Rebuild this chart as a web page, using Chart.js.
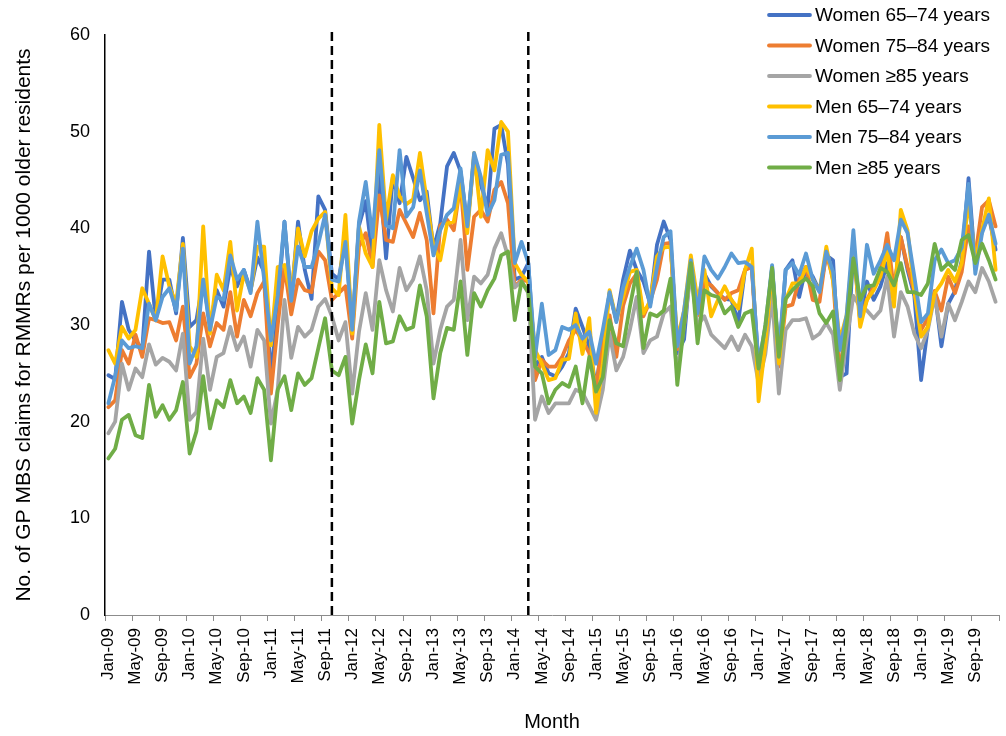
<!DOCTYPE html>
<html>
<head>
<meta charset="utf-8">
<script src="https://cdn.jsdelivr.net/npm/chart.js@4.4.1/dist/chart.umd.min.js"></script>
<style>
html,body{margin:0;padding:0;background:#fff;}
#wrap{width:1006px;height:736px;}
</style>
</head>
<body>
<div id="wrap"><canvas id="c" width="1006" height="736"></canvas></div>
<script>
const months = [
 'Jan-09','Feb-09','Mar-09','Apr-09','May-09','Jun-09','Jul-09','Aug-09','Sep-09','Oct-09','Nov-09','Dec-09',
 'Jan-10','Feb-10','Mar-10','Apr-10','May-10','Jun-10','Jul-10','Aug-10','Sep-10','Oct-10','Nov-10','Dec-10',
 'Jan-11','Feb-11','Mar-11','Apr-11','May-11','Jun-11','Jul-11','Aug-11','Sep-11','Oct-11','Nov-11','Dec-11',
 'Jan-12','Feb-12','Mar-12','Apr-12','May-12','Jun-12','Jul-12','Aug-12','Sep-12','Oct-12','Nov-12','Dec-12',
 'Jan-13','Feb-13','Mar-13','Apr-13','May-13','Jun-13','Jul-13','Aug-13','Sep-13','Oct-13','Nov-13','Dec-13',
 'Jan-14','Feb-14','Mar-14','Apr-14','May-14','Jun-14','Jul-14','Aug-14','Sep-14','Oct-14','Nov-14','Dec-14',
 'Jan-15','Feb-15','Mar-15','Apr-15','May-15','Jun-15','Jul-15','Aug-15','Sep-15','Oct-15','Nov-15','Dec-15',
 'Jan-16','Feb-16','Mar-16','Apr-16','May-16','Jun-16','Jul-16','Aug-16','Sep-16','Oct-16','Nov-16','Dec-16',
 'Jan-17','Feb-17','Mar-17','Apr-17','May-17','Jun-17','Jul-17','Aug-17','Sep-17','Oct-17','Nov-17','Dec-17',
 'Jan-18','Feb-18','Mar-18','Apr-18','May-18','Jun-18','Jul-18','Aug-18','Sep-18','Oct-18','Nov-18','Dec-18',
 'Jan-19','Feb-19','Mar-19','Apr-19','May-19','Jun-19','Jul-19','Aug-19','Sep-19','Oct-19','Nov-19','Dec-19'
];

const seriesLabels = ['Women 65–74 years','Women 75–84 years','Women ≥85 years','Men 65–74 years','Men 75–84 years','Men ≥85 years'];

const women65to74 = [
 24.8,24.4,32.4,29.5,28.4,27.5,37.6,30.5,34.7,34.7,31.2,39.0,
 29.8,30.5,34.7,30.0,33.6,31.9,36.0,34.0,35.7,33.6,37.0,35.5,
 24.6,32.0,40.7,32.6,40.7,35.7,32.7,43.3,41.9,35.3,34.7,39.0,
 29.5,40.3,42.8,36.9,46.0,36.9,45.3,42.6,47.4,45.2,42.9,43.8,
 37.9,40.5,46.4,47.8,45.9,40.3,47.4,44.5,42.2,50.3,50.7,46.6,
 34.7,35.0,36.4,25.7,26.7,25.0,24.7,25.7,27.1,31.7,29.8,27.8,
 23.6,28.5,33.3,30.5,34.7,37.7,35.7,34.5,32.2,38.3,40.7,38.8,
 27.1,28.5,36.7,32.0,35.3,34.0,33.3,32.7,32.6,30.3,35.7,36.2,
 25.7,29.0,36.0,26.5,35.7,36.7,32.9,36.0,35.0,33.5,37.2,36.7,
 24.6,25.0,38.0,30.5,34.5,32.6,34.0,36.4,33.5,39.1,35.7,33.0,
 24.3,29.8,33.5,27.8,32.2,33.5,36.7,45.2,36.0,39.8,41.2,37.8
];
const women75to84 = [
 21.5,22.2,27.4,26.0,29.0,26.7,30.7,30.5,30.2,30.3,28.4,31.9,
 24.6,26.0,31.2,27.8,30.2,29.5,33.4,28.8,32.6,30.9,33.3,34.5,
 22.9,30.0,36.0,31.1,34.7,33.6,33.4,37.6,36.7,32.6,33.3,34.0,
 28.6,38.1,39.5,36.0,43.4,38.8,38.6,41.9,40.5,39.1,41.6,38.8,
 31.2,40.3,40.9,39.8,44.7,35.7,41.2,41.9,40.7,44.0,44.8,42.6,
 33.9,34.7,34.5,24.3,26.4,25.7,25.7,26.7,28.4,29.5,28.4,27.1,
 23.5,28.5,31.0,26.7,32.0,34.3,35.3,30.9,32.5,34.7,38.4,38.5,
 27.5,30.0,36.0,31.0,34.5,34.1,33.3,32.6,33.3,33.6,35.7,36.0,
 24.6,28.4,35.3,25.7,31.9,32.1,34.7,36.0,32.6,32.4,37.5,34.7,
 25.0,30.0,38.5,30.5,32.6,34.0,35.3,39.5,33.5,39.1,36.0,33.5,
 29.5,30.7,33.5,31.5,35.0,33.3,35.5,40.2,37.1,42.2,42.9,40.2
];
const women85plus = [
 18.8,20.0,26.0,23.3,25.5,24.6,28.0,25.9,26.6,26.2,25.3,29.1,
 20.2,21.0,28.6,23.3,26.7,27.1,29.8,27.4,28.8,25.7,29.5,28.4,
 19.8,23.3,32.6,26.6,29.8,28.8,29.5,31.9,32.7,30.9,28.4,30.3,
 22.9,29.3,33.3,29.5,36.7,33.6,31.4,35.9,33.6,34.7,37.1,33.6,
 26.0,29.5,31.9,32.6,38.8,30.5,35.0,34.3,35.2,37.9,39.5,37.1,
 33.9,34.5,33.3,20.2,22.6,20.9,21.9,21.9,21.9,23.3,23.0,21.6,
 20.2,23.3,29.1,25.3,26.7,29.5,32.9,27.1,28.4,28.8,31.2,31.9,
 25.0,30.0,35.3,30.0,30.9,29.0,28.3,27.6,28.8,27.4,29.0,27.8,
 24.0,27.0,33.0,22.9,29.5,30.5,30.5,30.7,28.6,29.1,30.2,29.0,
 23.3,28.5,33.0,31.9,31.5,30.7,31.5,35.0,28.8,33.4,31.9,29.1,
 27.6,29.5,33.0,28.8,32.2,30.5,32.4,34.5,33.4,35.9,34.5,32.4
];
const men65to74 = [
 27.4,26.0,29.8,28.6,29.5,33.8,32.2,30.5,37.1,34.0,32.2,38.4,
 27.8,26.7,40.2,29.1,35.2,33.6,38.6,31.5,35.3,33.5,38.1,38.1,
 27.9,36.0,36.2,33.0,40.0,37.1,39.7,41.0,41.7,33.8,33.1,41.4,
 29.1,40.2,37.4,36.0,50.7,40.9,45.5,43.3,42.5,43.0,47.8,42.9,
 38.1,36.7,40.5,40.7,44.5,39.5,47.8,41.2,48.1,46.0,51.0,50.0,
 36.4,35.2,34.5,27.4,26.0,24.3,24.5,26.4,26.5,31.2,27.0,30.7,
 20.9,26.0,33.6,30.5,32.9,35.5,35.7,31.2,32.5,37.1,38.0,38.1,
 28.5,31.5,37.2,32.5,35.7,30.9,32.6,34.0,32.6,31.7,35.7,37.9,
 22.1,28.0,35.7,26.0,32.6,34.3,34.3,36.0,34.7,33.5,38.1,34.5,
 28.4,31.0,38.5,29.8,32.6,33.6,35.0,37.8,31.9,41.9,39.8,33.5,
 28.8,29.8,33.3,34.3,35.7,34.5,36.4,42.9,36.7,39.8,43.1,35.7
];
const men75to84 = [
 21.9,24.7,28.4,27.6,27.8,27.6,32.2,30.5,32.9,33.8,31.5,37.9,
 26.0,27.8,34.7,29.5,32.9,32.6,37.2,34.7,35.7,33.3,40.7,34.7,
 28.4,33.0,40.7,32.5,38.1,36.0,36.0,38.4,41.4,34.7,34.5,38.6,
 29.5,40.7,44.8,39.1,48.1,40.3,40.0,48.1,41.2,42.2,46.0,41.6,
 37.2,39.8,41.4,42.1,46.2,40.2,47.8,45.3,41.4,42.9,47.6,47.8,
 36.4,38.6,36.4,26.7,32.2,26.9,27.4,29.8,29.5,30.0,28.6,29.3,
 26.0,29.5,33.4,30.3,33.9,36.0,37.9,35.7,31.9,36.0,39.1,39.7,
 27.8,31.5,36.7,31.2,37.1,35.7,34.8,36.0,37.4,36.4,36.5,36.0,
 26.0,29.8,36.2,27.1,35.7,36.4,35.2,37.4,34.7,33.4,37.6,35.5,
 27.4,31.0,39.8,30.9,38.3,35.3,36.7,38.3,36.7,40.9,39.5,35.0,
 30.3,31.2,36.7,37.8,36.4,36.7,38.0,44.6,35.3,39.5,41.4,38.4
];
const men85plus = [
 16.2,17.2,20.2,20.7,18.6,18.3,23.8,20.5,21.7,20.2,21.2,24.1,
 16.7,19.0,24.7,19.3,22.2,21.5,24.3,21.9,22.6,20.9,24.5,23.3,
 16.0,23.3,24.7,21.2,25.0,23.8,24.5,27.6,30.7,25.3,24.8,26.7,
 19.8,24.3,28.0,25.0,32.4,28.1,28.3,30.9,29.5,29.8,34.1,30.9,
 22.4,27.1,29.7,29.5,34.5,26.9,33.3,31.9,33.6,34.8,37.2,37.6,
 30.5,34.5,33.4,25.7,25.0,21.9,23.3,24.0,23.6,25.7,21.9,26.7,
 23.1,24.6,30.5,28.1,27.8,31.9,35.5,27.6,31.2,30.9,31.5,34.8,
 23.8,30.0,36.4,28.1,33.6,33.1,32.9,31.2,31.9,29.8,31.2,31.5,
 25.5,30.0,35.9,26.7,32.7,33.6,34.3,34.8,34.0,31.2,30.2,31.4,
 24.3,30.0,36.9,32.6,34.0,34.1,35.9,35.5,34.1,36.4,33.4,33.4,
 33.1,34.3,38.4,35.7,36.4,35.7,38.8,39.3,36.4,38.4,36.7,34.7
];

const yTickValues = [0,10,20,30,40,50,60];
const xLabelEvery = 4;
const interventionMonths = ['Oct-11','Mar-14'];

const seriesColors = ['#4472C4','#ED7D31','#A5A5A5','#FFC000','#5B9BD5','#70AD47'];
const seriesData = [women65to74, women75to84, women85plus, men65to74, men75to84, men85plus];

const FONT = "'Liberation Sans', Arial, sans-serif";

const dashedLinesPlugin = {
  id: 'dashedLines',
  afterDatasetsDraw(chart) {
    const ctx = chart.ctx;
    const xs = chart.scales.x;
    const area = chart.chartArea;
    ctx.save();
    ctx.strokeStyle = '#000';
    ctx.lineWidth = 2.5;
    ctx.setLineDash([9, 5]);
    interventionMonths.forEach(m => {
      const px = xs.getPixelForValue(months.indexOf(m));
      ctx.beginPath();
      ctx.moveTo(px, area.top - 3);
      ctx.lineTo(px, area.bottom);
      ctx.stroke();
    });
    ctx.restore();
  }
};

const legendPlugin = {
  id: 'cornerLegend',
  afterDraw(chart) {
    const ctx = chart.ctx;
    ctx.save();
    ctx.font = '19px ' + FONT;
    ctx.textBaseline = 'middle';
    ctx.textAlign = 'left';
    chart.data.datasets.forEach((ds, i) => {
      const y = 15 + i * 30.5;
      ctx.strokeStyle = ds.borderColor;
      ctx.lineWidth = 3.8;
      ctx.lineCap = 'round';
      ctx.beginPath();
      ctx.moveTo(769, y);
      ctx.lineTo(810, y);
      ctx.stroke();
      ctx.fillStyle = '#000';
      ctx.fillText(ds.label, 815, y + 1);
    });
    ctx.restore();
  }
};

new Chart(document.getElementById('c'), {
  type: 'line',
  data: {
    labels: months,
    datasets: seriesLabels.map((lab, i) => ({
      label: lab,
      data: seriesData[i],
      borderColor: seriesColors[i],
      backgroundColor: seriesColors[i],
      borderWidth: 3.8,
      pointRadius: 0,
      tension: 0,
      fill: false,
      borderJoinStyle: 'round',
      borderCapStyle: 'round',
      order: seriesLabels.length - i
    }))
  },
  options: {
    responsive: false,
    animation: false,
    devicePixelRatio: 1,
    layout: { padding: { top: 35, right: 7, left: 0, bottom: 0 } },
    plugins: { legend: { display: false }, tooltip: { enabled: false } },
    scales: {
      x: {
        type: 'category',
        offset: true,
        grid: {
          offset: true,
          drawOnChartArea: false,
          drawTicks: true,
          tickLength: 6,
          lineWidth: 1,
          color: ctx => (ctx.index === undefined || ctx.index % xLabelEvery === 0) ? '#8c8c8c' : 'rgba(0,0,0,0)'
        },
        border: { display: true, color: '#8c8c8c', width: 1 },
        ticks: {
          autoSkip: false,
          maxRotation: 90,
          minRotation: 90,
          padding: 7,
          color: '#000',
          font: { family: FONT, size: 17 },
          callback: (v, i) => (i % xLabelEvery === 0 ? months[i] : '')
        },
        title: {
          display: true, text: 'Month', color: '#000',
          font: { family: FONT, size: 20 },
          padding: { top: 0, bottom: 2 }
        },
        afterFit: s => { s.height = 121; s.paddingRight = 0; s.paddingLeft = 0; }
      },
      y: {
        min: 0, max: 60,
        afterBuildTicks: s => { s.ticks = yTickValues.map(v => ({ value: v })); },
        grid: { display: false, drawTicks: false },
        border: { display: true, color: '#000', width: 1.5 },
        ticks: { padding: 15, color: '#000', font: { family: FONT, size: 18 } },
        title: {
          display: true, text: 'No. of GP MBS claims for RMMRs per 1000 older residents',
          color: '#000', font: { family: FONT, size: 21 },
          padding: { top: 12, bottom: 0 }
        },
        afterFit: s => { s.width = 105; s.paddingTop = 0; s.paddingBottom = 0; }
      }
    }
  },
  plugins: [dashedLinesPlugin, legendPlugin]
});
</script>
</body>
</html>
